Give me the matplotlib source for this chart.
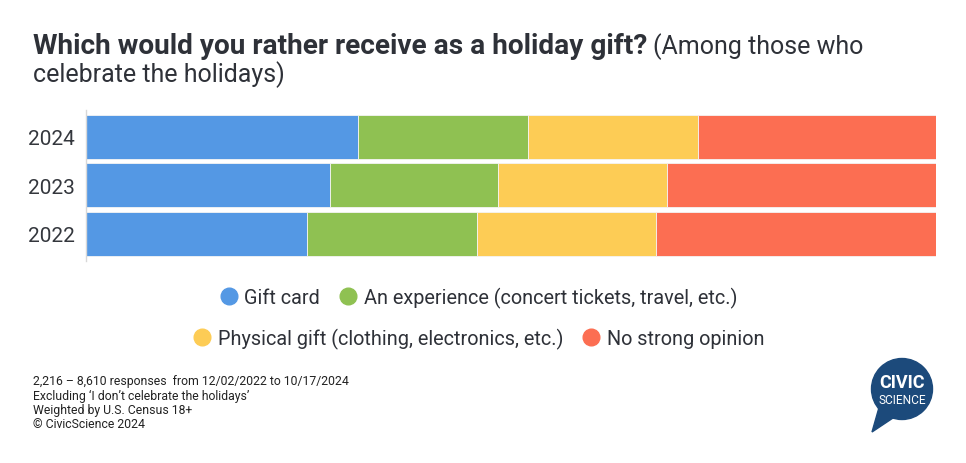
import matplotlib
matplotlib.use("Agg")
import matplotlib.pyplot as plt
from matplotlib.lines import Line2D
from matplotlib.patches import Circle, Polygon

years = ["2022", "2023", "2024"]
categories = [
    "Gift card",
    "An experience (concert tickets, travel, etc.)",
    "Physical gift (clothing, electronics, etc.)",
    "No strong opinion",
]
gift_card = [26.0, 28.7, 32.0]
experience = [20.0, 19.8, 20.0]
physical = [21.1, 19.9, 20.0]
no_opinion = [32.9, 31.6, 28.0]

colors = ["#5498E4", "#8FC152", "#FDCC55", "#FC6E52"]
text_dark = "#2E3138"

plt.rcParams["font.family"] = ["Roboto", "DejaVu Sans"]

W, H = 966, 464
fig = plt.figure(figsize=(W / 100, H / 100), dpi=100)

# main bar axes, placed in pixel terms
ax = fig.add_axes([86 / W, 1 - 262 / H, (936 - 86) / W, (262 - 111) / H])
left = [0, 0, 0]
for vals, col in zip([gift_card, experience, physical, no_opinion], colors):
    ax.barh(years, vals, left=left, height=0.907, color=col,
            edgecolor="#F4F4F4", linewidth=0.6)
    left = [l + v for l, v in zip(left, vals)]

ax.set_xlim(0, 100)
ax.set_ylim(-0.557, 2.546)
ax.set_xticks([])
for s in ["top", "right", "bottom"]:
    ax.spines[s].set_visible(False)
ax.spines["left"].set_color("#D8D8D8")
ax.spines["left"].set_linewidth(1)
ax.tick_params(axis="y", length=0, pad=8, labelsize=15, labelcolor="#34373D")

# title: bold part followed by regular part
t1 = fig.text(33 / W, 1 - 47 / H, "Which would you rather receive as a holiday gift?",
              fontsize=20.2, fontweight="bold", color=text_dark, va="center")
fig.canvas.draw()
bb = t1.get_window_extent(renderer=fig.canvas.get_renderer())
fig.text((bb.x1 + 6) / W, 1 - 47 / H, "(Among those who",
         fontsize=18, color=text_dark, va="center")
fig.text(33 / W, 1 - 75 / H, "celebrate the holidays)",
         fontsize=18, color=text_dark, va="center")

# legend in two centred rows
def handle(c):
    return Line2D([], [], marker="o", linestyle="none", markersize=12,
                  markerfacecolor=c, markeredgecolor=c)

rows = [([0, 1], 298), ([2, 3], 339)]
for idx, ypix in rows:
    leg = fig.legend([handle(colors[i]) for i in idx], [categories[i] for i in idx],
                     loc="center", bbox_to_anchor=(478 / W, 1 - ypix / H),
                     ncol=2, frameon=False, fontsize=14.3, handletextpad=0.3,
                     columnspacing=0.9, handlelength=1.0, borderaxespad=0)
    for t in leg.get_texts():
        t.set_color(text_dark)

# footer notes
notes = [
    "2,216 \u2013 8,610 responses  from 12/02/2022 to 10/17/2024",
    "Excluding \u2018I don\u2019t celebrate the holidays\u2019",
    "Weighted by U.S. Census 18+",
    "\u00a9 CivicScience 2024",
]
for i, line in enumerate(notes):
    fig.text(33 / W, 1 - (382 + i * 14.3) / H, line, fontsize=8.8,
             color="#222222", va="center")

# logo
lax = fig.add_axes([860 / W, 1 - 440 / H, 85 / W, 85 / H])
lax.set_xlim(860, 945)
lax.set_ylim(440, 355)
lax.set_aspect("equal")
lax.axis("off")
navy = "#1C4A7B"
lax.add_patch(Circle((902, 390), 30.5, color=navy))
lax.add_patch(Polygon([(880, 405), (872, 433), (896, 417)], closed=True, color=navy))
lax.text(902, 383, "CIVIC", color="white", fontsize=13, fontweight="bold",
         ha="center", va="center")
lax.text(902, 401, "SCIENCE", color="white", fontsize=8.6,
         ha="center", va="center")

fig.savefig("out.png", dpi=100, facecolor="white")
